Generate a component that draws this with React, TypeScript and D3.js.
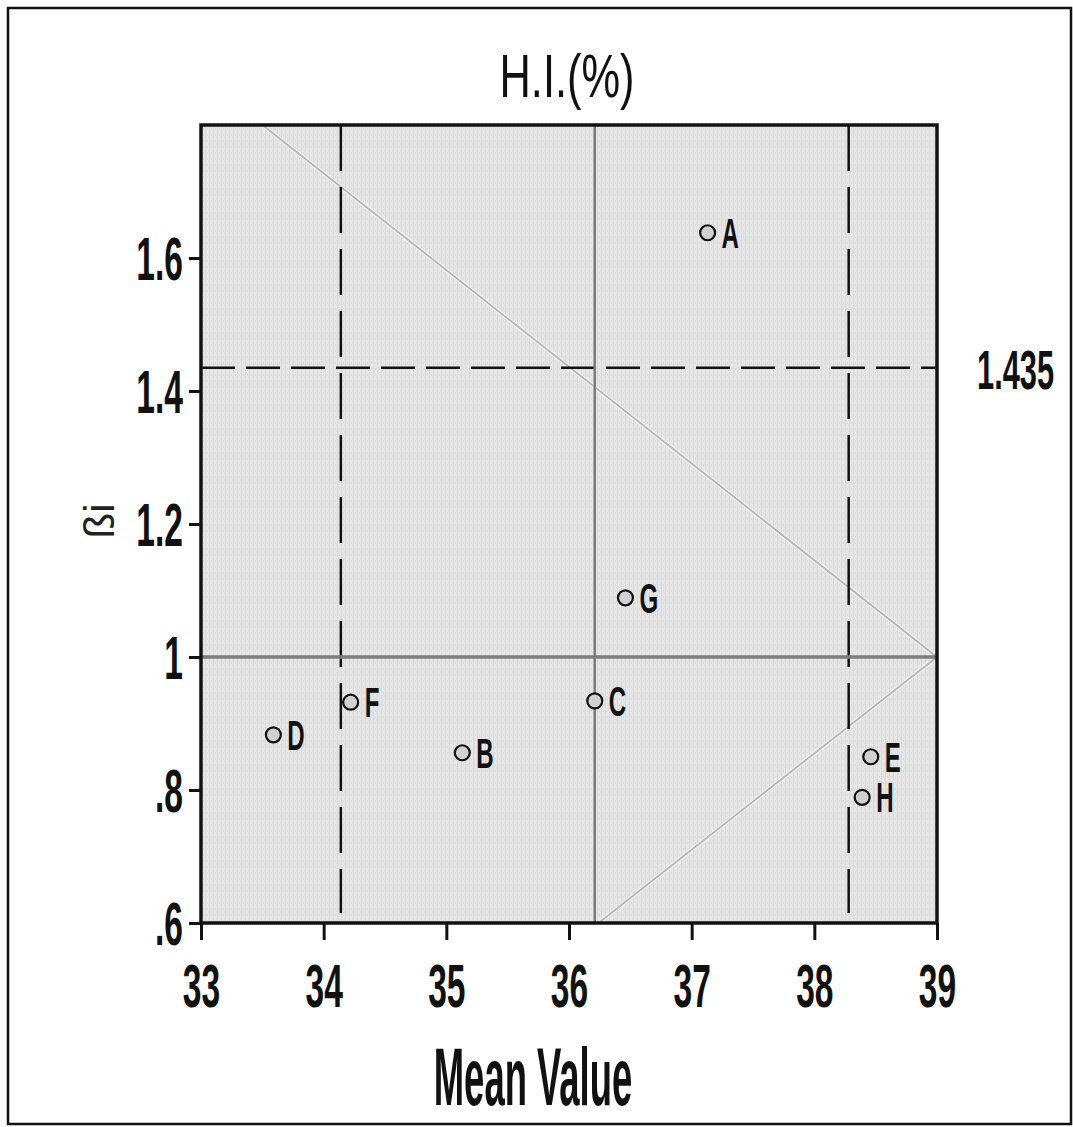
import * as d3 from 'd3';
import { useEffect, useRef } from 'react';

// genotype stability plot: mean value vs regression coefficient (ßi)
const genotypes = ['A', 'B', 'C', 'D', 'E', 'F', 'G', 'H'];
const meanValues = [37.13, 35.13, 36.21, 33.59, 38.46, 34.22, 36.46, 38.39];
const betaValues = [1.638, 0.856, 0.934, 0.883, 0.85, 0.932, 1.089, 0.789];

const xTicks = [33, 34, 35, 36, 37, 38, 39];
const yTicks = [0.6, 0.8, 1.0, 1.2, 1.4, 1.6];
const yTickLabels = ['.6', '.8', '1', '1.2', '1.4', '1.6'];

const grandMean = 36.21;
const meanLimits = [34.14, 38.28];
const betaLimit = 1.435;
const betaUnit = 1.0;

// light guide lines (mean, beta) pairs
const upperGuide: [number, number][] = [[33.5, 1.8], [39, 1.0]];
const lowerGuide: [number, number][] = [[39, 1.0], [36.24, 0.6]];

const W = 1073;
const H = 1127;
const plot = { left: 201, right: 937, top: 125, bottom: 923 };
const FONT = '"Liberation Sans", Arial, sans-serif';

type Sel = d3.Selection<any, unknown, null, undefined>;

// condensed text: squeeze horizontally around its anchor point
function condensed(
  parent: Sel, x: number, y: number, text: string,
  size: number, sx: number, opts: { bold?: boolean; anchor?: string } = {},
) {
  return parent.append('text')
    .attr('transform', `translate(${x},${y}) scale(${sx},1)`)
    .attr('text-anchor', opts.anchor ?? 'start')
    .attr('font-family', FONT)
    .attr('font-weight', opts.bold ? 'bold' : 'normal')
    .attr('font-size', size)
    .attr('fill', '#111')
    .text(text);
}

export default function App() {
  const ref = useRef<SVGSVGElement>(null);

  useEffect(() => {
    if (!ref.current) return;
    const svg = d3.select(ref.current);
    svg.selectAll('*').remove();

    const x = d3.scaleLinear().domain([33, 39]).range([plot.left, plot.right]);
    const y = d3.scaleLinear().domain([0.6, 1.8]).range([plot.bottom, plot.top]);

    // outer frame
    svg.append('rect')
      .attr('x', 8).attr('y', 8)
      .attr('width', W - 10).attr('height', H - 11)
      .attr('fill', '#fff').attr('stroke', '#111').attr('stroke-width', 2.5);

    // scanned grey texture
    const defs = svg.append('defs');
    const pat = defs.append('pattern')
      .attr('id', 'tex').attr('width', 4).attr('height', 6)
      .attr('patternUnits', 'userSpaceOnUse');
    pat.append('rect').attr('width', 4).attr('height', 6).attr('fill', '#e6e6e6');
    pat.append('rect').attr('x', 1).attr('width', 1).attr('height', 6).attr('fill', '#d8d8d8');
    pat.append('rect').attr('x', 3).attr('y', 2).attr('width', 1).attr('height', 2).attr('fill', '#dadada');

    svg.append('rect')
      .attr('x', plot.left).attr('y', plot.top)
      .attr('width', plot.right - plot.left).attr('height', plot.bottom - plot.top)
      .attr('fill', 'url(#tex)');

    const g = svg.append('g');

    // guide diagonals
    const line = d3.line<[number, number]>().x((d) => x(d[0])).y((d) => y(d[1]));
    [upperGuide, lowerGuide].forEach((pts) => {
      g.append('path').attr('d', line(pts)).attr('fill', 'none')
        .attr('stroke', '#f4f4f4').attr('stroke-width', 4);
      g.append('path').attr('d', line(pts)).attr('fill', 'none')
        .attr('stroke', '#b4b4b4').attr('stroke-width', 1.8);
    });

    // dashed limits
    meanLimits.forEach((m) => {
      g.append('line')
        .attr('x1', x(m)).attr('x2', x(m))
        .attr('y1', plot.top).attr('y2', plot.bottom - 10)
        .attr('stroke', '#111').attr('stroke-width', 2.5)
        .attr('stroke-dasharray', '46 16');
    });
    g.append('line')
      .attr('x1', plot.left).attr('x2', plot.right)
      .attr('y1', y(betaLimit)).attr('y2', y(betaLimit))
      .attr('stroke', '#111').attr('stroke-width', 2.5)
      .attr('stroke-dasharray', '34 11');

    // solid reference lines
    g.append('line')
      .attr('x1', x(grandMean)).attr('x2', x(grandMean))
      .attr('y1', plot.top).attr('y2', plot.bottom)
      .attr('stroke', '#7d7d7d').attr('stroke-width', 2.5);
    g.append('line')
      .attr('x1', plot.left).attr('x2', plot.right)
      .attr('y1', y(betaUnit)).attr('y2', y(betaUnit))
      .attr('stroke', '#7d7d7d').attr('stroke-width', 3.5);

    // frame
    g.append('rect')
      .attr('x', plot.left).attr('y', plot.top)
      .attr('width', plot.right - plot.left).attr('height', plot.bottom - plot.top)
      .attr('fill', 'none').attr('stroke', '#111').attr('stroke-width', 3.5);

    // axes
    const sxNum = 0.55;
    const xAxis = g.append('g')
      .attr('transform', `translate(0,${plot.bottom})`)
      .call(d3.axisBottom(x).tickValues(xTicks).tickSize(17).tickFormat(d3.format('d')));
    xAxis.select('.domain').remove();
    xAxis.selectAll('line').attr('stroke', '#111').attr('stroke-width', 3);
    xAxis.selectAll('text')
      .attr('font-family', FONT).attr('font-weight', 'bold').attr('font-size', 61)
      .attr('fill', '#111').attr('dy', null).attr('y', 84)
      .attr('transform', `scale(${sxNum},1)`);

    const yAxis = g.append('g')
      .attr('transform', `translate(${plot.left},0)`)
      .call(d3.axisLeft(y).tickValues(yTicks).tickSize(12)
        .tickFormat((_, i) => yTickLabels[i]));
    yAxis.select('.domain').remove();
    yAxis.selectAll('line').attr('stroke', '#111').attr('stroke-width', 3);
    yAxis.selectAll('text')
      .attr('font-family', FONT).attr('font-weight', 'bold').attr('font-size', 61)
      .attr('fill', '#111').attr('dy', '0.36em').attr('x', -18 / sxNum)
      .attr('transform', `scale(${sxNum},1)`);

    // points
    const pts = g.append('g');
    genotypes.forEach((name, i) => {
      const cx = x(meanValues[i]);
      const cy = y(betaValues[i]);
      pts.append('circle')
        .attr('cx', cx).attr('cy', cy).attr('r', 7.5)
        .attr('fill', '#d0d0d0').attr('stroke', '#111').attr('stroke-width', 2.2);
      condensed(pts, cx + 14, cy + 15, name, 43, 0.56, { bold: true });
    });

    // limit label
    condensed(svg, 977, y(betaLimit) + 21, '1.435', 56, sxNum, { bold: true });

    // titles
    condensed(svg, 567, 97, 'H.I.(%)', 62, 0.7, { anchor: 'middle' });
    condensed(svg, 533, 1105, 'Mean Value', 81, 0.45, { bold: true, anchor: 'middle' });

    svg.append('text')
      .attr('transform', 'translate(114,521) rotate(-90)')
      .attr('text-anchor', 'middle')
      .attr('font-family', FONT).attr('font-size', 42).attr('fill', '#222')
      .text('ßi');
  }, []);

  return (
    <svg
      ref={ref}
      width={W}
      height={H}
      style={{ position: 'absolute', left: 0, top: 0, background: '#fff' }}
    />
  );
}
